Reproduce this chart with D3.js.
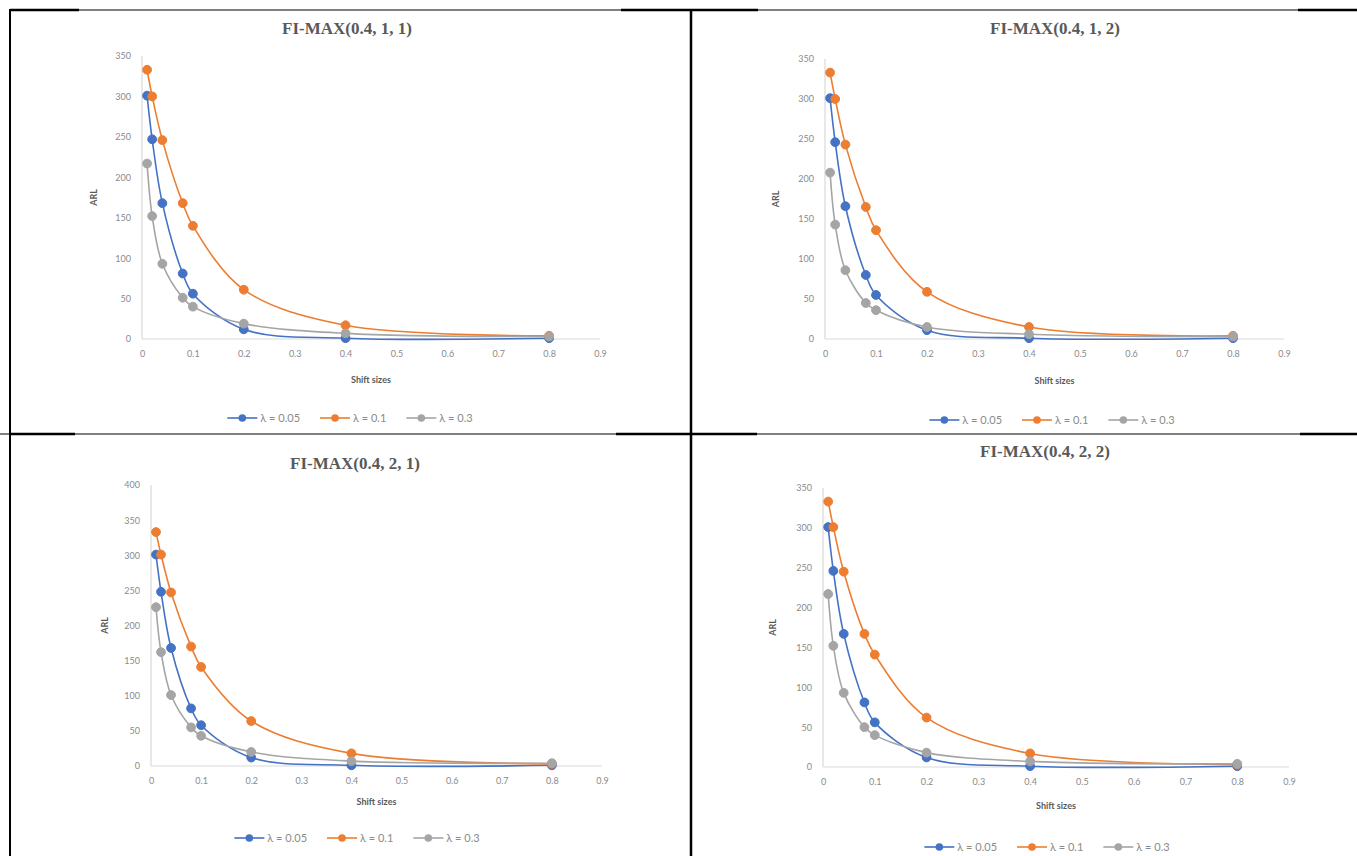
<!DOCTYPE html>
<html>
<head>
<meta charset="utf-8">
<script src="https://cdn.jsdelivr.net/npm/d3@7"></script>
<style>
  body { margin: 0; background: #fff; }
  svg { display: block; }
</style>
</head>
<body>
<svg id="svg" width="1357" height="856"></svg>
<script>
    // shift sizes on the x axis
    var shifts = [0.01, 0.02, 0.04, 0.08, 0.1, 0.2, 0.4, 0.8];
    var xTicks = [0, 0.1, 0.2, 0.3, 0.4, 0.5, 0.6, 0.7, 0.8, 0.9];
    var lambdaLabels = ["\u03bb = 0.05", "\u03bb = 0.1", "\u03bb = 0.3"];
    var colors = ["#4472c4", "#ed7d31", "#a5a5a5"];
    var titles = ["FI-MAX(0.4, 1, 1)", "FI-MAX(0.4, 1, 2)", "FI-MAX(0.4, 2, 1)", "FI-MAX(0.4, 2, 2)"];
    var yMaxes = [350, 350, 400, 350];

    // ARL values
    var arl11_l005 = [301, 247, 168, 81, 56, 12, 1, 1];
    var arl11_l01  = [333, 300, 246, 168, 140, 61, 17, 4];
    var arl11_l03  = [217, 152, 93, 51, 40, 19, 7, 3];

    var arl12_l005 = [301, 246, 166, 80, 55, 11, 1, 1];
    var arl12_l01  = [333, 300, 243, 165, 136, 59, 15, 4];
    var arl12_l03  = [208, 143, 86, 45, 36, 15, 6, 3];

    var arl21_l005 = [301, 248, 168, 82, 58, 12, 1, 1];
    var arl21_l01  = [333, 301, 247, 170, 141, 64, 18, 3];
    var arl21_l03  = [226, 162, 101, 55, 43, 20, 7, 4];

    var arl22_l005 = [301, 246, 167, 81, 56, 12, 1, 1];
    var arl22_l01  = [333, 301, 245, 167, 141, 62, 17, 3];
    var arl22_l03  = [217, 152, 93, 50, 40, 18, 7, 4];

    var chartSeries = [
        [arl11_l005, arl11_l01, arl11_l03],
        [arl12_l005, arl12_l01, arl12_l03],
        [arl21_l005, arl21_l01, arl21_l03],
        [arl22_l005, arl22_l01, arl22_l03]
    ];

    // panel layout (pixels)
    var panels = [
        {x0: 142, x1: 600, y0: 339, y1: 56, titleX: 347, titleY: 34, arlX: 97, shiftY: 383, legY: 418, legX: 350},
        {x0: 825, x1: 1284, y0: 339, y1: 59, titleX: 1055, titleY: 34, arlX: 779, shiftY: 384, legY: 420, legX: 1052},
        {x0: 151, x1: 602, y0: 766, y1: 485, titleX: 355, titleY: 469, arlX: 108, shiftY: 805, legY: 838, legX: 357},
        {x0: 823, x1: 1289, y0: 767, y1: 488, titleX: 1045, titleY: 457, arlX: 776, shiftY: 809, legY: 847, legX: 1047}
    ];

    var svg = d3.select("#svg");
    var grey = "#595959";

    panels.forEach(function (p, i) {
        var g = svg.append("g");
        var x = d3.scaleLinear().domain([0, 0.9]).range([p.x0, p.x1]);
        var y = d3.scaleLinear().domain([0, yMaxes[i]]).range([p.y0, p.y1]);

        // axis lines
        g.append("line").attr("x1", p.x0).attr("x2", p.x0).attr("y1", p.y0).attr("y2", p.y1)
            .attr("stroke", "#d9d9d9").attr("stroke-width", 1.2);
        g.append("line").attr("x1", p.x0).attr("x2", p.x1).attr("y1", p.y0).attr("y2", p.y0)
            .attr("stroke", "#d9d9d9").attr("stroke-width", 1.2);

        var xa = g.append("g").attr("transform", "translate(0," + p.y0 + ")")
            .call(d3.axisBottom(x).tickValues(xTicks).tickSize(0).tickPadding(12)
                .tickFormat(function (d) { return d === 0 ? "0" : d3.format(".1f")(d); }));
        var ya = g.append("g").attr("transform", "translate(" + p.x0 + ",0)")
            .call(d3.axisLeft(y).ticks(yMaxes[i] / 50).tickSize(0).tickPadding(11));
        [xa, ya].forEach(function (a) {
            a.select(".domain").remove();
            a.selectAll("text").attr("fill", "#8a8a8a").attr("font-family", "Lato").attr("font-size", "9px");
        });

        // title
        g.append("text").attr("x", p.titleX).attr("y", p.titleY)
            .attr("text-anchor", "middle").attr("font-family", "Liberation Serif")
            .attr("font-weight", "bold").attr("font-size", "17px").attr("fill", grey)
            .text(titles[i]);

        // axis titles
        g.append("text").attr("transform", "translate(" + p.arlX + "," + ((p.y0 + p.y1) / 2) + ") rotate(-90)")
            .attr("text-anchor", "middle").attr("font-family", "Lato").attr("font-weight", "bold")
            .attr("font-size", "9px").attr("fill", grey).text("ARL");
        g.append("text").attr("x", (p.x0 + p.x1) / 2).attr("y", p.shiftY)
            .attr("text-anchor", "middle").attr("font-family", "Lato").attr("font-weight", "bold")
            .attr("font-size", "9px").attr("fill", grey).text("Shift sizes");

        // series
        var line = d3.line()
            .x(function (d, k) { return x(shifts[k]); })
            .y(function (d) { return y(d); })
            .curve(d3.curveCatmullRom.alpha(0.5));
        chartSeries[i].forEach(function (vals, s) {
            g.append("path").datum(vals).attr("d", line)
                .attr("fill", "none").attr("stroke", colors[s]).attr("stroke-width", 1.6);
        });
        chartSeries[i].forEach(function (vals, s) {
            g.selectAll(null).data(vals).enter().append("circle")
                .attr("cx", function (d, k) { return x(shifts[k]); })
                .attr("cy", function (d) { return y(d); })
                .attr("r", 4.4).attr("fill", colors[s]).attr("stroke", colors[s]);
        });

        // legend
        var leg = g.append("g");
        var cx = 0;
        lambdaLabels.forEach(function (lab, s) {
            var item = leg.append("g").attr("transform", "translate(" + cx + ",0)");
            item.append("line").attr("x1", 0).attr("x2", 30).attr("y1", 0).attr("y2", 0)
                .attr("stroke", colors[s]).attr("stroke-width", 1.6);
            item.append("circle").attr("cx", 15).attr("cy", 0).attr("r", 3.8).attr("fill", colors[s]);
            var t = item.append("text").attr("x", 33).attr("y", 4).attr("font-family", "Lato")
                .attr("font-size", "11px").attr("fill", "#8a8a8a").text(lab);
            cx += 33 + t.node().getComputedTextLength() + 20;
        });
        leg.attr("transform", "translate(" + (p.legX - (cx - 20) / 2) + "," + p.legY + ")");
    });

    // table frame
    var frame = svg.append("g").attr("stroke", "#000");
    frame.append("line").attr("x1", 10).attr("x2", 1357).attr("y1", 10).attr("y2", 10).attr("stroke-width", 1);
    frame.append("line").attr("x1", 0).attr("x2", 1357).attr("y1", 434).attr("y2", 434).attr("stroke-width", 1);
    [[10, 79, 10], [621, 758, 10], [1298, 1357, 10], [10, 75, 434], [616, 757, 434], [1300, 1357, 434]]
        .forEach(function (s) {
            frame.append("line").attr("x1", s[0]).attr("x2", s[1]).attr("y1", s[2]).attr("y2", s[2]).attr("stroke-width", 2.5);
        });
    frame.append("line").attr("x1", 10).attr("x2", 10).attr("y1", 9).attr("y2", 856).attr("stroke-width", 2);
    frame.append("line").attr("x1", 691).attr("x2", 691).attr("y1", 9).attr("y2", 856).attr("stroke-width", 2.5);
</script>
</body>
</html>
